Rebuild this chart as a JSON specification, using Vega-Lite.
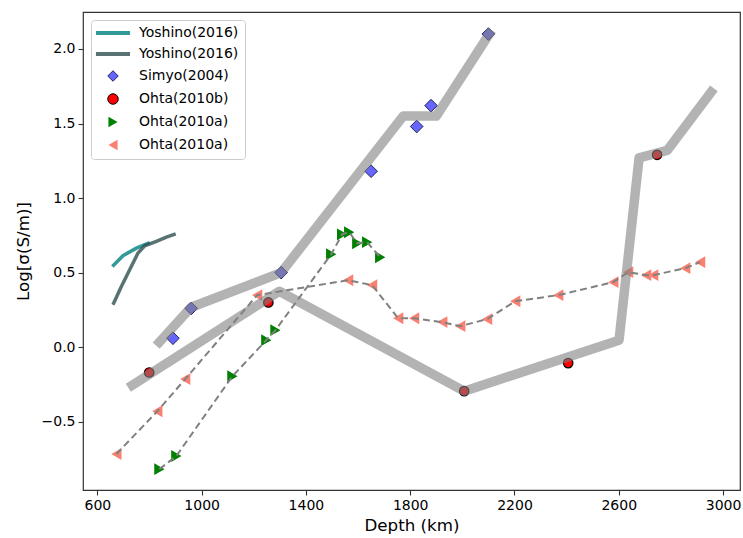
{
  "$schema": "https://vega.github.io/schema/vega-lite/v6.json",
  "width": 657,
  "height": 478,
  "autosize": {"type": "none"},
  "padding": {"left": 83, "top": 12, "right": 3, "bottom": 48},
  "config": {
    "font": "DejaVu Sans",
    "view": {"stroke": "#333333", "strokeWidth": 1.2},
    "axis": {
      "grid": false,
      "domain": false,
      "tickColor": "#333333",
      "tickSize": 5,
      "tickWidth": 1.1,
      "labelFontSize": 14,
      "labelColor": "#000000",
      "labelPadding": 3,
      "titleFontSize": 16.7,
      "titleFontWeight": "normal",
      "titleColor": "#000000"
    },
    "legend": {
      "orient": "top-left",
      "offset": 8,
      "padding": 6,
      "fillColor": "white",
      "strokeColor": "#cccccc",
      "cornerRadius": 3,
      "labelFontSize": 14,
      "labelColor": "#000000",
      "symbolSize": 110,
      "symbolStrokeWidth": 1,
      "symbolOpacity": 1,
      "symbolOffset": 9,
      "labelOffset": 19,
      "rowPadding": 7
    }
  },
  "datasets": {
    "d": [
      {"s": "Y1", "x": 657.6, "y": 0.541},
      {"s": "Y1", "x": 698.3, "y": 0.613},
      {"s": "Y1", "x": 749.7, "y": 0.664},
      {"s": "Y1", "x": 800.8, "y": 0.702},
      {"s": "Y2", "x": 659.9, "y": 0.284},
      {"s": "Y2", "x": 692.1, "y": 0.407},
      {"s": "Y2", "x": 724.0, "y": 0.519},
      {"s": "Y2", "x": 755.9, "y": 0.631},
      {"s": "Y2", "x": 781.6, "y": 0.68},
      {"s": "Y2", "x": 826.5, "y": 0.709},
      {"s": "Y2", "x": 864.9, "y": 0.738},
      {"s": "Y2", "x": 900.6, "y": 0.76},
      {"s": "G", "x": 838, "y": -0.818},
      {"s": "G", "x": 903, "y": -0.73},
      {"s": "G", "x": 1118, "y": -0.195},
      {"s": "G", "x": 1248, "y": 0.047},
      {"s": "G", "x": 1283, "y": 0.114},
      {"s": "G", "x": 1497, "y": 0.623},
      {"s": "G", "x": 1539, "y": 0.757},
      {"s": "G", "x": 1566, "y": 0.771},
      {"s": "G", "x": 1597, "y": 0.697},
      {"s": "G", "x": 1635, "y": 0.704},
      {"s": "G", "x": 1685, "y": 0.603},
      {"s": "L", "x": 673, "y": -0.717},
      {"s": "L", "x": 830, "y": -0.43},
      {"s": "L", "x": 937, "y": -0.214},
      {"s": "L", "x": 1213, "y": 0.349},
      {"s": "L", "x": 1562, "y": 0.449},
      {"s": "L", "x": 1654, "y": 0.416},
      {"s": "L", "x": 1754, "y": 0.194},
      {"s": "L", "x": 1815, "y": 0.194},
      {"s": "L", "x": 1923, "y": 0.168},
      {"s": "L", "x": 1992, "y": 0.141},
      {"s": "L", "x": 2095, "y": 0.188},
      {"s": "L", "x": 2203, "y": 0.308},
      {"s": "L", "x": 2368, "y": 0.349},
      {"s": "L", "x": 2579, "y": 0.436},
      {"s": "L", "x": 2636, "y": 0.503},
      {"s": "L", "x": 2705, "y": 0.483},
      {"s": "L", "x": 2732, "y": 0.483},
      {"s": "L", "x": 2855, "y": 0.53},
      {"s": "L", "x": 2912, "y": 0.57},
      {"s": "S", "x": 890, "y": 0.06},
      {"s": "S", "x": 960, "y": 0.26},
      {"s": "S", "x": 1305, "y": 0.5},
      {"s": "S", "x": 1650, "y": 1.18},
      {"s": "S", "x": 1825, "y": 1.48},
      {"s": "S", "x": 1880, "y": 1.62},
      {"s": "S", "x": 2100, "y": 2.1},
      {"s": "R", "x": 799, "y": -0.17},
      {"s": "R", "x": 1256, "y": 0.3},
      {"s": "R", "x": 2007, "y": -0.295},
      {"s": "R", "x": 2406, "y": -0.107},
      {"s": "R", "x": 2747, "y": 1.29},
      {"s": "g1", "x": 838, "y": 0.034},
      {"s": "g1", "x": 960, "y": 0.268},
      {"s": "g1", "x": 1305, "y": 0.5},
      {"s": "g1", "x": 1773, "y": 1.55},
      {"s": "g1", "x": 1900, "y": 1.55},
      {"s": "g1", "x": 2103, "y": 2.1},
      {"s": "g2", "x": 734, "y": -0.255},
      {"s": "g2", "x": 1298, "y": 0.375},
      {"s": "g2", "x": 2007, "y": -0.295},
      {"s": "g2", "x": 2601, "y": 0.047},
      {"s": "g2", "x": 2678, "y": 1.27},
      {"s": "g2", "x": 2786, "y": 1.32},
      {"s": "g2", "x": 2954, "y": 1.71}
    ]
  },
  "data": {"name": "d"},
  "encoding": {
    "x": {
      "field": "x", "type": "quantitative",
      "scale": {"domain": [545, 3065], "nice": false, "zero": false},
      "axis": {"values": [600, 1000, 1400, 1800, 2200, 2600, 3000], "format": "d", "title": "Depth (km)", "titlePadding": 5}
    },
    "y": {
      "field": "y", "type": "quantitative",
      "scale": {"domain": [-0.958, 2.248], "nice": false, "zero": false},
      "axis": {"values": [-0.5, 0, 0.5, 1, 1.5, 2], "labelExpr": "replace(format(datum.value, '.1f'), '-', '−')", "title": "Log[σ(S/m)]", "titlePadding": 9}
    }
  },
  "layer": [
    {
      "transform": [{"filter": "datum.s === 'Y1'"}],
      "mark": {"type": "line", "strokeWidth": 3.5, "opacity": 0.8, "strokeCap": "butt"},
      "encoding": {"color": {"value": "#008080"}}
    },
    {
      "transform": [{"filter": "datum.s === 'Y2'"}],
      "mark": {"type": "line", "strokeWidth": 3.5, "opacity": 0.8, "strokeCap": "butt"},
      "encoding": {"color": {"value": "#2f4f4f"}}
    },
    {
      "encoding": {
        "color": {
          "field": "s", "type": "nominal",
          "scale": {"domain": ["Y1", "Y2", "S", "R", "G", "L"], "range": ["#339999", "#597272", "#6666ff", "#ff0000", "#008000", "#fa8072"]},
          "legend": {"title": null, "labelExpr": "['Yoshino(2016)','Yoshino(2016)','Simyo(2004)','Ohta(2010b)','Ohta(2010a)','Ohta(2010a)'][indexof(['Y1','Y2','S','R','G','L'], datum.label)]"}
        },
        "shape": {
          "field": "s", "type": "nominal",
          "scale": {"domain": ["Y1", "Y2", "S", "R", "G", "L"], "range": ["M-3.25,-0.38H3.25V0.38H-3.25Z", "M-3.25,-0.38H3.25V0.38H-3.25Z", "diamond", "circle", "triangle-right", "triangle-left"]},
          "legend": {"title": null, "labelExpr": "['Yoshino(2016)','Yoshino(2016)','Simyo(2004)','Ohta(2010b)','Ohta(2010a)','Ohta(2010a)'][indexof(['Y1','Y2','S','R','G','L'], datum.label)]"}
        },
        "stroke": {
          "field": "s", "type": "nominal",
          "scale": {"domain": ["Y1", "Y2", "S", "R", "G", "L"], "range": ["transparent", "transparent", "#222255", "#000000", "transparent", "transparent"]},
          "legend": {"title": null, "labelExpr": "['Yoshino(2016)','Yoshino(2016)','Simyo(2004)','Ohta(2010b)','Ohta(2010a)','Ohta(2010a)'][indexof(['Y1','Y2','S','R','G','L'], datum.label)]"}
        }
      },
      "layer": [
        {
          "transform": [{"filter": "datum.s === 'L'"}],
          "mark": {"type": "point", "filled": true, "size": 140, "opacity": 1, "strokeWidth": 1}
        },
        {
          "transform": [{"filter": "datum.s === 'G'"}],
          "mark": {"type": "point", "filled": true, "size": 140, "opacity": 1, "strokeWidth": 1}
        },
        {
          "transform": [{"filter": "datum.s === 'S'"}],
          "mark": {"type": "point", "filled": true, "size": 160, "opacity": 1, "strokeWidth": 1}
        },
        {
          "transform": [{"filter": "datum.s === 'R'"}],
          "mark": {"type": "point", "filled": true, "size": 90, "opacity": 1, "strokeWidth": 1.2}
        }
      ]
    },
    {
      "transform": [{"filter": "datum.s === 'L'"}],
      "mark": {"type": "line", "strokeWidth": 2, "strokeDash": [7, 4]},
      "encoding": {"color": {"value": "#808080"}}
    },
    {
      "transform": [{"filter": "datum.s === 'G'"}],
      "mark": {"type": "line", "strokeWidth": 2, "strokeDash": [7, 4]},
      "encoding": {"color": {"value": "#808080"}}
    },
    {
      "transform": [{"filter": "datum.s === 'g1' || datum.s === 'g2'"}],
      "mark": {"type": "line", "opacity": 0.6, "strokeWidth": 9.5, "strokeJoin": "round", "strokeCap": "square"},
      "encoding": {"color": {"value": "#808080"}, "detail": {"field": "s"}}
    }
  ]
}
